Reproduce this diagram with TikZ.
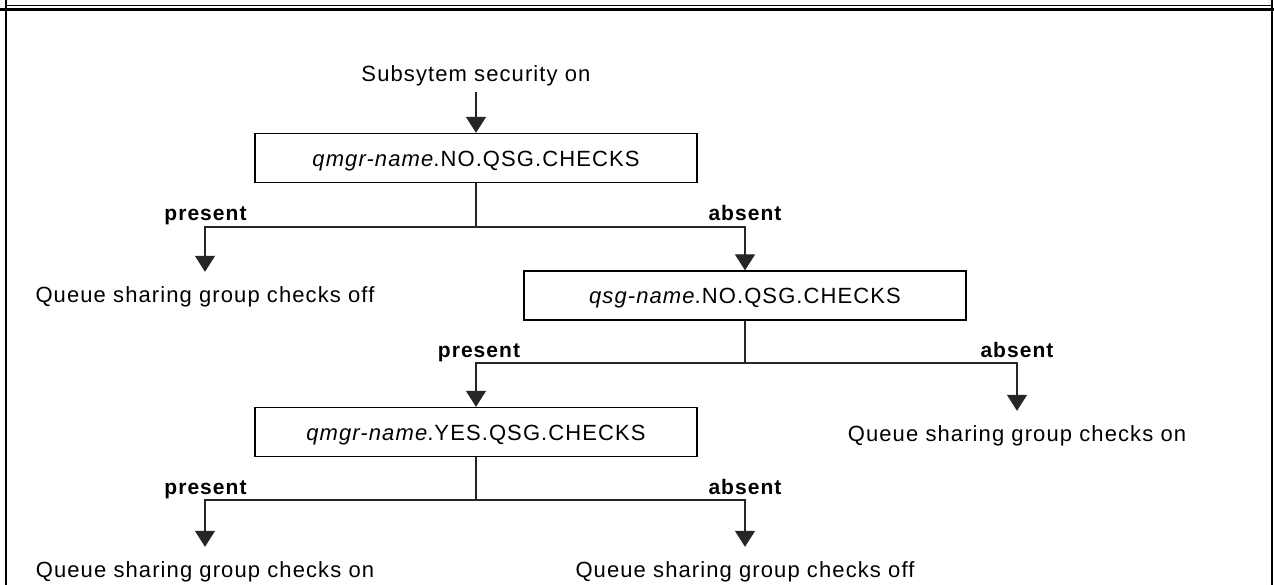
\documentclass[tikz,border=0pt]{standalone}
\usepackage{fontspec}
\setmainfont{Liberation Sans}[LetterSpace=5]
\usetikzlibrary{arrows.meta}
\tikzset{
  txt/.style={inner sep=0pt, anchor=base, font=\fontsize{22pt}{26pt}\selectfont, text height=15pt, text depth=4pt},
  lbl/.style={txt, font=\fontsize{21pt}{26pt}\selectfont\bfseries},
  box/.style={draw=black, line width=1.3pt, minimum width=442pt, minimum height=49pt, inner sep=0pt,
     font=\fontsize{22pt}{26pt}\selectfont, text height=17pt, text depth=0pt},
  conn/.style={draw=black!85, line width=1.3pt},
  arr/.style={conn, -{Triangle[width=20pt,length=16pt]}, shorten >=15pt},
  arrb/.style={conn, -{Triangle[width=20pt,length=16pt]}},
  frame/.style={draw=black}
}
\begin{document}
\begin{tikzpicture}[x=1pt,y=-1pt]
\useasboundingbox (0,0) rectangle (1274,585);
\fill[white] (0,0) rectangle (1274,585);
% frame
\draw[frame, line width=2.4pt] (6,0) -- (6,585);
\draw[frame, line width=2.4pt] (1272,0) -- (1272,585);
\draw[frame, line width=1pt] (6,5.5) -- (1272,5.5);
\draw[frame, line width=3pt] (0,9.5) -- (1274,9.5);
% nodes
\node[txt] (start) at (476,82) {Subsytem security on};
\node[box] (b1) at (476,158) {\textit{qmgr-name}.NO.QSG.CHECKS};
\node[txt] (t1) at (205,302) {Queue sharing group checks off};
\node[box] (b2) at (745,295.5) {\textit{qsg-name}.NO.QSG.CHECKS};
\node[box] (b3) at (476,432) {\textit{qmgr-name}.YES.QSG.CHECKS};
\node[txt] (t2) at (1017,441) {Queue sharing group checks on};
\node[txt] (t3) at (205,577) {Queue sharing group checks on};
\node[txt] (t4) at (745,577) {Queue sharing group checks off};
% labels
\node[lbl] (p1) at (205.5,221) {present};
\node[lbl] (a1) at (745,221) {absent};
\node[lbl] (p2) at (479,357) {present};
\node[lbl] (a2) at (1017,357) {absent};
\node[lbl] (p3) at (205.5,494) {present};
\node[lbl] (a3) at (745,494) {absent};
% junctions
\coordinate (j1) at (476,227);
\coordinate (j2) at (745,363);
\coordinate (j3) at (476,500);
% connectors
\draw[arrb, shorten <=6pt] (start.south) -- (b1.north);
\draw[conn] (b1.south) -- (j1);
\draw[arr] (j1) -| (t1.north);
\draw[arrb] (j1) -| (b2.north);
\draw[conn] (b2.south) -- (j2);
\draw[arrb] (j2) -| (b3.north);
\draw[arr] (j2) -| (t2.north);
\draw[conn] (b3.south) -- (j3);
\draw[arr] (j3) -| (t3.north);
\draw[arr] (j3) -| (t4.north);
\end{tikzpicture}
\end{document}
